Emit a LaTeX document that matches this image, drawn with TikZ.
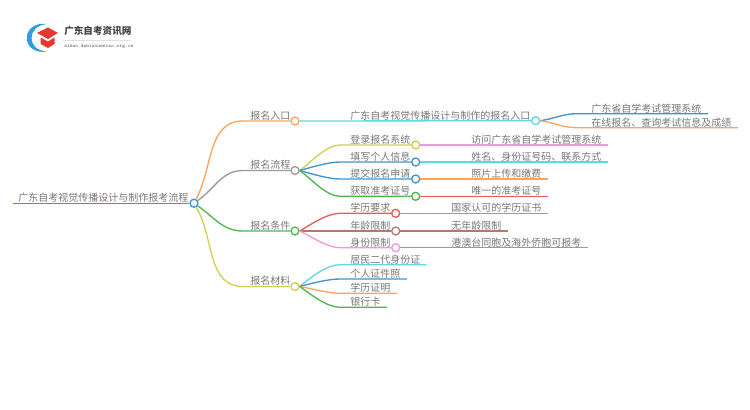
\documentclass[tikz,border=0pt]{standalone}
\usepackage{fontspec}
\setmainfont{Noto Sans CJK SC}
\definecolor{cBlue}{HTML}{3F93D0}
\definecolor{cOrange}{HTML}{FFA35C}
\definecolor{cCyan}{HTML}{5FD8E6}
\definecolor{cGray}{HTML}{9A9A9A}
\definecolor{cGreen}{HTML}{4DB84D}
\definecolor{cOlive}{HTML}{CFCF55}
\definecolor{cPink}{HTML}{EE9AD8}
\definecolor{cRed}{HTML}{EE5A5A}
\definecolor{cBrown}{HTML}{B5786C}
\definecolor{cPurple}{HTML}{A98BD0}
\definecolor{cText}{HTML}{777777}
\definecolor{cLogoRed}{HTML}{E5392F}
\definecolor{cLogoBlue}{HTML}{2E9FDC}
\tikzset{
	dot/.style={circle,draw,fill=white,line width=1pt,inner sep=0pt,minimum size=6pt},
	edge/.style={line width=1pt},
	label/.style={anchor=south west,inner sep=0pt,text=cText,font=\fontsize{7.5pt}{9pt}\selectfont}
}
\begin{document}
\begin{tikzpicture}[x=0.75pt,y=-0.75pt]
	\useasboundingbox (0,0) rectangle (750,410);
	% Logo
	\fill [cLogoBlue] (47,24) .. controls (34,22) and (26,31) .. (27,38) .. controls (26,45) and (34,54) .. (47,51.5) .. controls (37,51) and (31.5,45) .. (31.5,38) .. controls (31.5,31) and (37,25) .. (47,24) -- cycle;
	\fill [cLogoRed] (37,33) -- (48,27.5) -- (58,33) -- (48,39) -- cycle;
	\fill [cLogoRed] (40.5,37.5) -- (48,41.5) -- (54.5,37.5) -- (54.5,44) -- (48,48) -- (40.5,44) -- cycle;
	\node [anchor=west,inner sep=0pt,text=black!75,font=\bfseries\fontsize{7.2pt}{9pt}\selectfont] (logotitle) at (64,31) {广东自考资讯网};
	\draw [black!12,line width=0.4pt] (63,40) -- (131,40);
	\node [anchor=west,inner sep=0pt,text=black!65,font=\ttfamily\fontsize{3.9pt}{5pt}\selectfont] (logosub) at (64,46.5) {zikao.daniuxueniao.org.cn};
	% Root
	\node [dot,draw=cBlue] (root) at (194,203.2) {};
	\coordinate (rootL) at (13,203.2);
	\draw [edge,cBlue] (rootL) -- (root);
	\node [label] (roottext) at (18,203) {广东自考视觉传播设计与制作报考流程};
	% Branches
	\node [dot,draw=cOrange] (rukou) at (295,121) {};
	\node [dot,draw=cGray] (liucheng) at (295,170.5) {};
	\node [dot,draw=cGreen] (tiaojian) at (295,231) {};
	\node [dot,draw=cOlive] (cailiao) at (295,286.5) {};
	\foreach \name/\col/\ypos/\ang/\txt in {rukou/cOrange/121/62/报名入口,liucheng/cGray/170.5/35/报名流程,tiaojian/cGreen/231/-35/报名条件,cailiao/cOlive/286.5/-60/报名材料}{
		\coordinate (\name L) at (243,\ypos);
		\draw [edge,\col] (root.\ang) to [out=\ang,in=180] (\name L) -- (\name.west);
		\node [label] (\name text) at (250,\ypos-0.5) {\txt};
	}
	% Entrance
	\node [dot,draw=cCyan] (entry) at (535.7,120.7) {};
	\draw [edge,cCyan] (rukou.east) -- (entry.west);
	\node [label] (entrytext) at (350,120.2) {广东自考视觉传播设计与制作的报名入口};
	\coordinate (site) at (577,113.7);
	\coordinate (siteR) at (708,113.7);
	\coordinate (online) at (577,127.7);
	\coordinate (onlineR) at (738,127.7);
	\draw [edge,cBlue] (entry.east) to [out=8,in=180] (site) -- (siteR);
	\draw [edge,cOrange] (entry.east) to [out=-8,in=180] (online) -- (onlineR);
	\node [label] (sitetext) at (591,113.2) {广东省自学考试管理系统};
	\node [label] (onlinetext) at (591,127.2) {在线报名、查询考试信息及成绩};
	% Process
	\foreach \name/\ypos/\ang/\col/\colb/\xend/\txt/\leaf in {
		denglu/145/35/cOlive/cPink/607.7/登录报名系统/访问广东省自学考试管理系统,
		tianxie/162/15/cBlue/cCyan/607.7/填写个人信息/姓名、身份证号码、联系方式,
		tijiao/179/-15/cBlue/cOrange/547.7/提交报名申请/照片上传和缴费,
		huoqu/196.3/-35/cGreen/cRed/547.7/获取准考证号/唯一的准考证号}{
		\node [dot,draw=\col] (\name) at (415.7,\ypos) {};
		\coordinate (\name L) at (340,\ypos);
		\coordinate (\name R) at (\xend,\ypos);
		\draw [edge,\col] (liucheng.east) to [out=\ang,in=180,looseness=0.75] (\name L) -- (\name.west);
		\draw [edge,\colb] (\name.east) -- (\name R);
		\node [label] (\name text) at (350,\ypos-0.5) {\txt};
		\node [label] (\name leaf) at (471,\ypos-0.5) {\leaf};
	}
	% Conditions
	\foreach \name/\ypos/\ang/\col/\colb/\xend/\txt/\leaf in {
		xueli/213.3/30/cRed/cPurple/547.7/学历要求/国家认可的学历证书,
		nianling/231/0/cBrown/cBrown/507.7/年龄限制/无年龄限制,
		shenfen/247.7/-25/cPink/cGray/587.7/身份限制/港澳台同胞及海外侨胞可报考}{
		\node [dot,draw=\col] (\name) at (395.7,\ypos) {};
		\coordinate (\name L) at (340,\ypos);
		\coordinate (\name R) at (\xend,\ypos);
		\draw [edge,\col] (tiaojian.east) to [out=\ang,in=180,looseness=0.75] (\name L) -- (\name.west);
		\draw [edge,\colb] (\name.east) -- (\name R);
		\node [label] (\name text) at (350,\ypos-0.5) {\txt};
		\node [label] (\name leaf) at (451,\ypos-0.5) {\leaf};
	}
	% Materials
	\foreach \name/\ypos/\ang/\col/\xend/\txt in {
		jumin/264.7/40/cCyan/426.7/居民二代身份证,
		zhengjian/279/15/cBlue/407/个人证件照,
		xuezheng/293.3/-10/cOrange/397/学历证明,
		yinhang/307.3/-35/cGreen/387/银行卡}{
		\coordinate (\name L) at (340,\ypos);
		\coordinate (\name R) at (\xend,\ypos);
		\draw [edge,\col] (cailiao.east) to [out=\ang,in=180,looseness=0.75] (\name L) -- (\name R);
		\node [label] (\name text) at (350,\ypos-0.5) {\txt};
	}
\end{tikzpicture}
\end{document}
